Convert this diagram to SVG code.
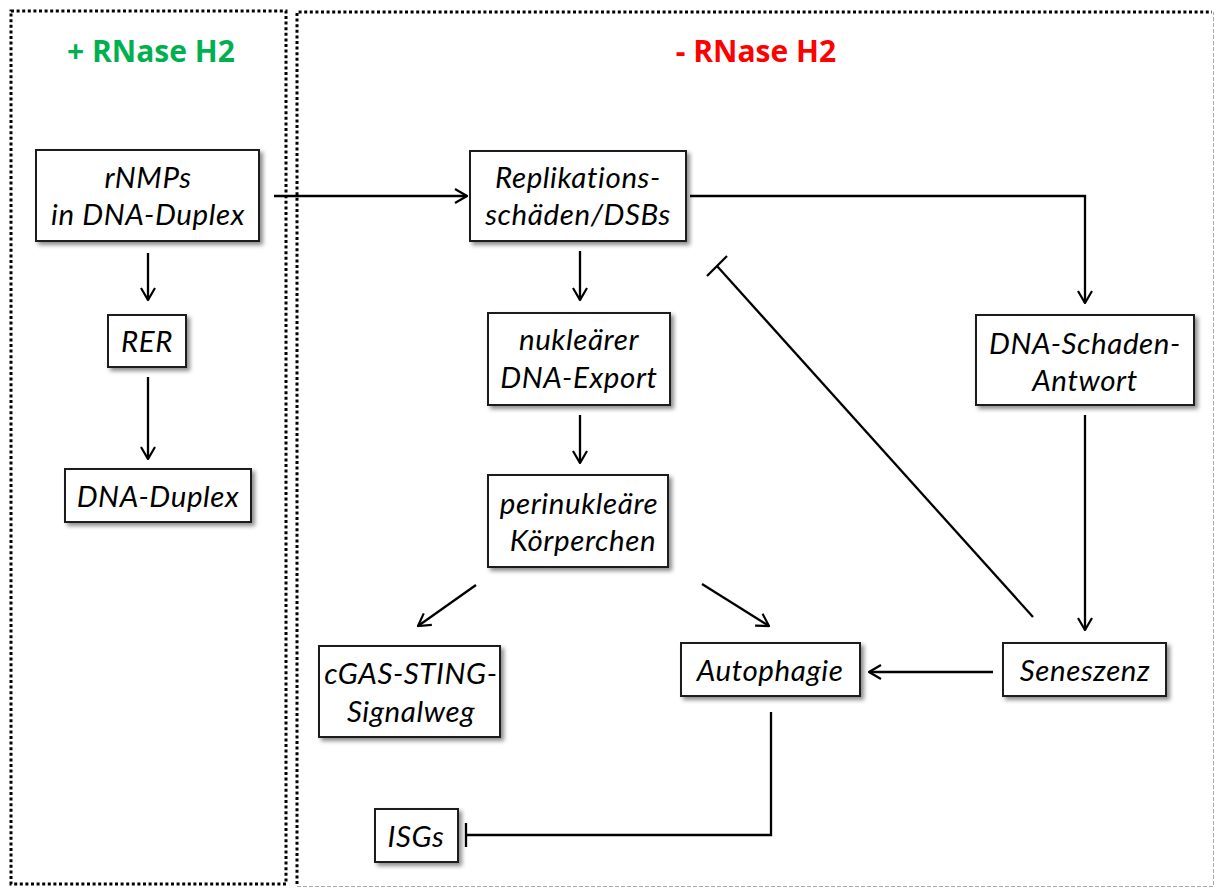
<svg xmlns="http://www.w3.org/2000/svg" width="1215" height="888" viewBox="0 0 1215 888">
<style>
.node rect{fill:#fff;stroke:#1a1a1a;stroke-width:2;filter:url(#sh)}
.node text{font-family:Lato,"Open Sans","Liberation Sans",sans-serif;font-style:italic;font-size:29.5px;letter-spacing:0.6px;fill:#000;text-anchor:middle}
.title{font-family:"Open Sans","Liberation Sans",sans-serif;font-weight:bold;font-size:30px;text-anchor:middle}
.dot{fill:none;stroke:#000;stroke-width:3;stroke-dasharray:3 2.6}
.gray{fill:none;stroke:#aaa;stroke-width:1;stroke-dasharray:4 2}
#edges path{fill:none;stroke:#000;stroke-width:2.3}
.arr{marker-end:url(#ah)}
</style>
<defs>
<filter id="sh" x="-10%" y="-10%" width="130%" height="140%">
<feDropShadow dx="3" dy="3" stdDeviation="2" flood-color="#000" flood-opacity="0.45"/>
</filter>
<marker id="ah" viewBox="0 0 14 16" refX="13" refY="8" markerWidth="14" markerHeight="16" markerUnits="userSpaceOnUse" orient="auto">
<path d="M1,1 L13,8 L1,15" fill="none" stroke="#000" stroke-width="2.2"/>
</marker>
</defs>
<rect width="1215" height="888" fill="#fff"/>
<g id="panels">
<path class="gray" d="M297,886.5 H1213.5 V12"/>
<rect class="dot" x="11" y="11" width="275" height="873"/>
<path class="dot" d="M297,884 V12 H1212"/>
<text class="title" x="151" y="62" fill="#00b050">+ RNase H2</text>
<text class="title" x="756" y="62" fill="#ff0000">- RNase H2</text>
</g>
<g id="edges">
<path class="arr" d="M148,253 V300"/>
<path class="arr" d="M148,377 V459"/>
<path class="arr" d="M274,196 H467"/>
<path class="arr" d="M690,196 H1085 V303"/>
<path class="arr" d="M580,251 V300"/>
<path class="arr" d="M580,415 V463"/>
<path class="arr" d="M476,585 L418,626"/>
<path class="arr" d="M702,584 L769,626"/>
<path class="arr" d="M1085,415 V630"/>
<path class="arr" d="M993,672 H869"/>
<path d="M1033,617 L717,266"/>
<path d="M707,276 L727,256"/>
<path d="M771,712 V835 H466"/>
<path d="M466,823 V847"/>
</g>
<g id="n-rnmps" class="node"><rect x="36" y="150" width="223" height="91"/><text x="148" y="188">rNMPs</text><text x="148" y="225">in DNA-Duplex</text></g>
<g id="n-rer" class="node"><rect x="108" y="315" width="78" height="52"/><text x="147" y="352">RER</text></g>
<g id="n-dnaduplex" class="node"><rect x="65" y="469" width="186" height="53"/><text x="158" y="507">DNA-Duplex</text></g>
<g id="n-repl" class="node"><rect x="470" y="151" width="216" height="90"/><text x="578" y="188">Replikations-</text><text x="578" y="225">schäden/DSBs</text></g>
<g id="n-nuk" class="node"><rect x="488" y="313" width="182" height="92"/><text x="579" y="350">nukleärer</text><text x="579" y="388">DNA-Export</text></g>
<g id="n-peri" class="node"><rect x="488" y="475" width="180" height="92"/><text x="579" y="514">perinukleäre</text><text x="583" y="551">Körperchen</text></g>
<g id="n-dsa" class="node"><rect x="976" y="315" width="218" height="90"/><text x="1085" y="354">DNA-Schaden-</text><text x="1085" y="391">Antwort</text></g>
<g id="n-cgas" class="node"><rect x="319" y="646" width="181" height="91"/><text x="411" y="684">cGAS-STING-</text><text x="411" y="722">Signalweg</text></g>
<g id="n-auto" class="node"><rect x="681" y="643" width="179" height="53"/><text x="770" y="681">Autophagie</text></g>
<g id="n-sen" class="node"><rect x="1003" y="643" width="163" height="53"/><text x="1085" y="681">Seneszenz</text></g>
<g id="n-isgs" class="node"><rect x="375" y="809" width="83" height="53"/><text x="416" y="847">ISGs</text></g>
</svg>
